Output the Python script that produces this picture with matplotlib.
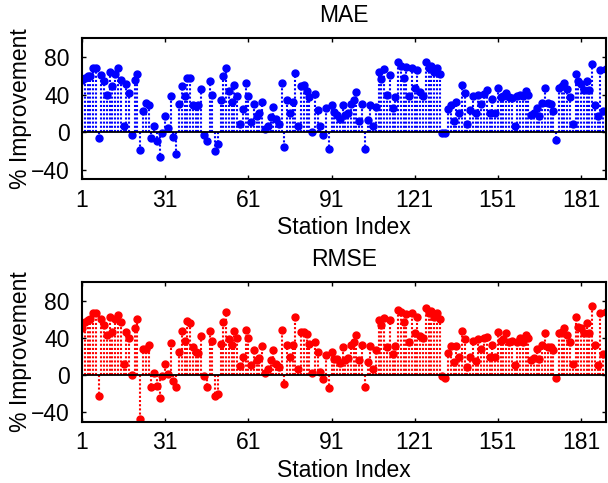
import numpy as np
import matplotlib
matplotlib.use("Agg")
import matplotlib.pyplot as plt

plt.rcParams['font.family'] = ['Liberation Sans', 'DejaVu Sans']

# Percent improvement per station
mae_improvement = [
    56, 58, 60, 60, 68, 68, -6, 61, 55, 40,
    64, 49, 62, 68, 56, 6, 51, 42, -3, 56,
    62, -19, 23, 31, 29, -6, 6, -9, -27, -1,
    17, 4, 38, -5, -23, 30, 49, 38, 58, 58,
    29, 28, 29, 46, -3, -9, 55, 40, -20,
    -13, 34, 60, 68, 44, 32, 50, 39, 9, 25,
    52, 39, 11, 30, 17, 20, 32, 3, 7, 16,
    27, 14, 9, 52, -16, 34, 20, 32, 63, 6,
    49, 50, 44, 37, 0, 41, 24, 6, -3, 26,
    -18, 29, 21, 18, 14, 29,
    18, 20, 30, 34, 43, 12, 30, -18, 13, 29,
    6, 27, 64, 57, 67, 40, 61, 26, 37, 75,
    70, 58, 69, 38, 68, 47, 66, 43, 38, 75,
    68, 71, 64, 68, 62, -1, -1, 25, 29, 12,
    32, 20, 50, 42, 9, 24, 38,
    20, 40, 30, 41, 45, 20, 35, 20, 47, 37,
    39, 42, 37, 36, 6, 39, 40, 39, 44, 40,
    18, 20, 26, 17, 31, 47, 31, 30, 23, -8,
    47, 49, 52, 46, 37, 9, 62, 54, 51, 45,
    55, 45, 73, 29, 17, 66, 23, 67,
]

rmse_improvement = [
    51, 57, 59, 60, 67, 67, -22, 60, 54, 43,
    63, 47, 60, 65, 57, 12, 47, 40, 0, 51,
    60, -47, 28, 28, 33, -13, 2, -12, -24, -1,
    12, 1, 35, -6, -13, 25, 48, 37, 58, 56,
    30, 25, 24, 42, -1, -13, 48, 37, -22,
    -20, 34, 57, 68, 39, 32, 48, 40, 10, 20,
    49, 40, 11, 27, 16, 19, 31, 2, 7, 16,
    27, 12, 9, 49, -9, 32, 20, 33, 63, 7,
    47, 47, 44, 34, 2, 36, 25, 4, -4, 22,
    -14, 25, 18, 17, 13, 30,
    16, 19, 33, 36, 43, 16, 33, -13, 14, 31,
    7, 27, 59, 54, 62, 30, 59, 23, 31, 70,
    68, 57, 66, 36, 67, 45, 63, 42, 40, 72,
    67, 69, 63, 67, 60, -1, -3, 24, 31, 14,
    31, 20, 48, 39, 9, 20, 37,
    15, 39, 28, 40, 41, 20, 33, 20, 46, 37,
    39, 45, 36, 37, 11, 36, 40, 36, 43, 40,
    16, 19, 28, 17, 32, 45, 30, 30, 27, -3,
    45, 47, 51, 43, 36, 12, 63, 52, 51, 45,
    56, 45, 74, 33, 11, 67, 23, 68,
]

panel_titles = ["MAE", "RMSE"]
panel_colors = ["#0000ff", "#ff0000"]
x_ticks = [1, 31, 61, 91, 121, 151, 181]
y_ticks = [-40, 0, 40, 80]

stations = np.arange(1, len(mae_improvement) + 1)

fig = plt.figure(figsize=(6.08, 4.83), dpi=100)
W, H = 608, 483
boxes = [(82, 38.3, 606, 179), (82, 282.3, 606, 421.7)]
FS = 16.5

for (l, t, r, b), title, color, vals in zip(
        boxes, panel_titles, panel_colors, [mae_improvement, rmse_improvement]):
    ax = fig.add_axes([l / W, 1 - b / H, (r - l) / W, (b - t) / H])
    markerline, stemlines, baseline = ax.stem(stations, vals)
    stemlines.set_color(color)
    stemlines.set_linewidth(1.5)
    stemlines.set_linestyle((0, (1.0, 1.0)))
    markerline.set_color(color)
    markerline.set_marker('o')
    markerline.set_markersize(5.0)
    markerline.set_markeredgecolor(color)
    markerline.set_markerfacecolor(color)
    baseline.set_color('black')
    baseline.set_linestyle('-')
    baseline.set_linewidth(1.3)

    ax.set_xlim(1, len(stations))
    ax.set_ylim(-50, 100)
    ax.set_xticks(x_ticks)
    ax.set_yticks(y_ticks)
    ax.tick_params(direction='in', length=3, width=1, top=True, right=True,
                   labelsize=FS)
    ax.tick_params(axis='x', pad=7)
    ax.tick_params(axis='y', pad=9)
    for sp in ax.spines.values():
        sp.set_linewidth(1.5)
    ax.set_title(title, fontsize=FS, pad=12)
    ax.set_xlabel("Station Index", fontsize=FS)
    ax.set_ylabel("% Improvement", fontsize=FS)
    ax.xaxis.set_label_coords(0.5, -0.265)
    ax.yaxis.set_label_coords(-0.095, 0.5)

fig.savefig("out.png", dpi=100)
